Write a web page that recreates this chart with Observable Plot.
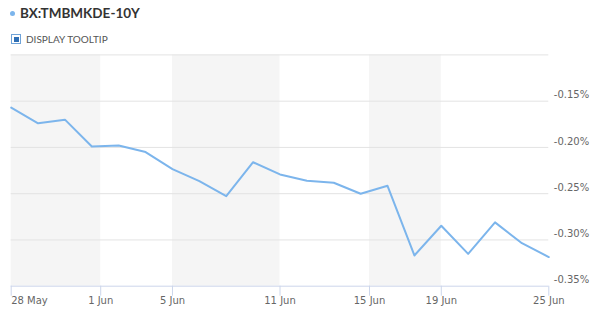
<!DOCTYPE html>
<html>
<head>
<meta charset="utf-8">
<script src="https://cdn.jsdelivr.net/npm/d3@7"></script>
<script src="https://cdn.jsdelivr.net/npm/@observablehq/plot@0.6"></script>
<style>
  html, body { margin: 0; padding: 0; background: #ffffff; }
  #wrap { width: 600px; height: 316px; position: relative; overflow: hidden; }
  #head { position: relative; height: 48px; }
  #title {
    position: absolute; left: 20px; top: 5px;
    font: bold 13.5px Lato, "Open Sans", sans-serif; color: #333;
  }
  #dot {
    position: absolute; left: 10px; top: 11px; width: 5px; height: 5px;
    border-radius: 50%; background: #7cb5ec;
  }
  #tip {
    position: absolute; left: 11px; top: 34px; height: 10px;
    font: 10px Lato, "Open Sans", sans-serif; color: #555; line-height: 10px;
  }
  #box {
    position: absolute; left: 0; top: 0; width: 8px; height: 8px;
    border: 1px solid #6fa3d8; background: #fff;
  }
  #box::after {
    content: ""; position: absolute; left: 1.5px; top: 1.5px; width: 5px; height: 5px;
    background: #2f6fb5;
  }
  #tip span { position: absolute; left: 15px; top: 0; white-space: nowrap; }
  svg { display: block; }
</style>
</head>
<body>
<div id="wrap">
  <div id="head">
    <div id="dot"></div>
    <div id="title">BX:TMBMKDE-10Y</div>
    <div id="tip"><div id="box"></div><span>DISPLAY TOOLTIP</span></div>
  </div>
  <div id="chart"></div>
</div>
<script>
// Trading days, 28 May – 25 Jun
const days = ["28 May","29 May","1 Jun","2 Jun","3 Jun","4 Jun","5 Jun","8 Jun","9 Jun","10 Jun",
  "11 Jun","12 Jun","15 Jun","16 Jun","17 Jun","18 Jun","19 Jun","22 Jun","23 Jun","24 Jun","25 Jun"];
// 10-year yield, percent
const yields = [-0.157, -0.174, -0.170, -0.199, -0.198, -0.205, -0.2235, -0.2365, -0.2527, -0.216,
  -0.2292, -0.236, -0.2382, -0.2501, -0.2415, -0.3168, -0.2847, -0.315, -0.281, -0.3035, -0.3185];
// x-axis ticks, in trading-day units
const tickLabels = ["28 May", "1 Jun", "5 Jun", "11 Jun", "15 Jun", "19 Jun", "25 Jun"];
const tickAt = [0, 3.33, 6, 10, 13.33, 16, 20];
// y-axis
const yLabels = [-0.35, -0.30, -0.25, -0.20, -0.15];
const yGrid = [-0.30, -0.25, -0.20, -0.15, -0.10];

const series = yields.map((v, i) => ({i, day: days[i], v}));
const labelOf = new Map(tickAt.map((t, k) => [t, tickLabels[k]]));
// alternate shaded bands between every other pair of ticks
const bands = [];
for (let k = 0; k + 1 < tickAt.length; k += 2) bands.push({x1: tickAt[k], x2: tickAt[k + 1]});

const axisFont = {fontSize: 10, fill: "#666"};

const chart = Plot.plot({
  width: 600,
  height: 268,
  marginLeft: 10.7,
  marginRight: 51.7,
  marginTop: 6.4,
  marginBottom: 30.3,
  style: {fontFamily: "'DejaVu Sans', sans-serif", background: "transparent", overflow: "visible"},
  x: {domain: [0, 20]},
  y: {domain: [-0.35, -0.10]},
  marks: [
    Plot.rect(bands, {x1: "x1", x2: "x2", fill: "#f5f5f5"}),
    Plot.gridY(yGrid, {stroke: "#e3e3e3", strokeOpacity: 1}),
    Plot.ruleY([-0.35], {stroke: "#ccd6eb"}),
    Plot.axisY(yLabels, {
      anchor: "right", tickSize: 0, tickPadding: 5, dy: -6, textAnchor: "start",
      tickFormat: d => d.toFixed(2) + "%", label: null, ...axisFont
    }),
    Plot.axisX(tickAt.slice(0, 1), {
      anchor: "bottom", tickSize: 10, tickPadding: 1, textAnchor: "start",
      stroke: "#ccd6eb", tickFormat: d => labelOf.get(d), label: null, ...axisFont
    }),
    Plot.axisX(tickAt.slice(1), {
      anchor: "bottom", tickSize: 10, tickPadding: 1,
      stroke: "#ccd6eb", tickFormat: d => labelOf.get(d), label: null, ...axisFont
    }),
    Plot.lineY(series, {x: "i", y: "v", stroke: "#7cb5ec", strokeWidth: 2})
  ]
});
document.getElementById("chart").appendChild(chart);
</script>
</body>
</html>
